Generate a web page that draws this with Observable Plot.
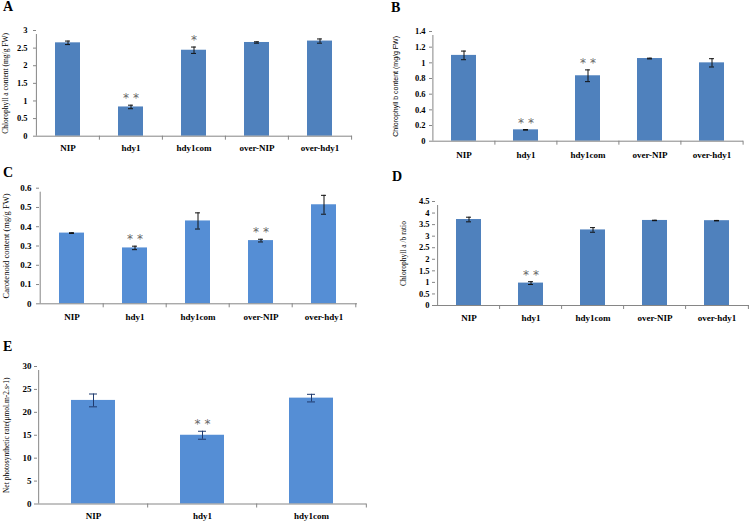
<!DOCTYPE html>
<html><head><meta charset="utf-8">
<script src="https://cdn.jsdelivr.net/npm/d3@7"></script>
<script src="https://cdn.jsdelivr.net/npm/@observablehq/plot@0.6"></script>
<style>
body{margin:0;background:#fff;}
#wrap{position:relative;width:750px;height:522px;overflow:hidden;background:#fff}
.panel{position:absolute}
.letter{position:absolute;font:bold 14px "Liberation Serif",serif;line-height:1;color:#000}
</style></head><body><div id="wrap"></div>
<script>
// ---- data ----
const lines5 = ["NIP", "hdy1", "hdy1com", "over-NIP", "over-hdy1"];
const lines3 = ["NIP", "hdy1", "hdy1com"];

const chlA = [2.65, 0.83, 2.44, 2.66, 2.70];
const chlAErr = [0.05, 0.05, 0.09, 0.02, 0.06];
const chlASig = ["", "**", "*", "", ""];
const chlATicks = [0, 0.5, 1, 1.5, 2, 2.5, 3];

const chlB = [1.095, 0.145, 0.835, 1.055, 1.0];
const chlBErr = [0.055, 0.004, 0.075, 0.005, 0.053];
const chlBSig = ["", "**", "**", "", ""];
const chlBTicks = [0, 0.2, 0.4, 0.6, 0.8, 1, 1.2, 1.4];

const carot = [0.367, 0.29, 0.43, 0.328, 0.514];
const carotErr = [0.002, 0.009, 0.042, 0.007, 0.049];
const carotSig = ["", "**", "", "**", ""];
const carotTicks = [0, 0.1, 0.2, 0.3, 0.4, 0.5, 0.6];

const ratioAB = [3.72, 0.97, 3.27, 3.68, 3.67];
const ratioABErr = [0.1, 0.06, 0.1, 0.01, 0.01];
const ratioABSig = ["", "**", "", "", ""];
const ratioTicks = [0, 0.5, 1, 1.5, 2, 2.5, 3, 3.5, 4, 4.5];

const pn = [22.6, 15.0, 23.1];
const pnErr = [1.4, 0.87, 0.83];
const pnSig = ["", "**", ""];
const pnTicks = [0, 5, 10, 15, 20, 25, 30];

const SERIF = "Liberation Serif, Times New Roman, serif";
const SANS = "Liberation Sans, Arial, sans-serif";
const AXIS = "#868686";

function panel(o) {
  const data = o.cats.map((c, i) => ({cat: c, v: o.values[i], e: o.errors[i], sig: o.sig[i]}));
  const yMax = o.ticks[o.ticks.length - 1];
  const step = (o.width - o.ml - o.mr) / o.cats.length;
  const chart = Plot.plot({
    width: o.width, height: o.height,
    marginTop: o.mt, marginRight: o.mr, marginBottom: o.mb, marginLeft: o.ml,
    style: {background: "transparent", overflow: "visible"},
    x: {type: "band", domain: o.cats, paddingInner: 0.6, paddingOuter: 0.3},
    y: {domain: [0, yMax]},
    marks: [
      Plot.barY(data, {x: "cat", y: "v", fill: o.color}),
      // y axis line + left category tick
      Plot.ruleX([o.cats[0]], {x: d => d, y1: 0, y2: yMax, dx: -step / 2, insetBottom: -4, stroke: AXIS}),
      // x axis line
      Plot.ruleY([0], {stroke: AXIS}),
      // category separator ticks
      Plot.ruleX(o.cats.slice(1), {x: d => d, y1: 0, y2: 0, dx: -step / 2, insetBottom: -4, stroke: AXIS}),
      Plot.ruleX([o.cats[o.cats.length - 1]], {x: d => d, y1: 0, y2: 0, dx: step / 2, insetBottom: -4, stroke: AXIS}),
      // error bars
      Plot.ruleX(data, {x: "cat", y1: d => d.v - d.e, y2: d => d.v + d.e, stroke: o.errColor, strokeWidth: 1}),
      Plot.tickY(data, {x: "cat", y: d => d.v + d.e, insetLeft: o.capInset, insetRight: o.capInset, stroke: o.errColor}),
      Plot.tickY(data, {x: "cat", y: d => d.v - d.e, insetLeft: o.capInset, insetRight: o.capInset, stroke: o.errColor}),
      // significance stars
      Plot.text(data.filter(d => d.sig), {x: "cat", y: d => d.v + d.e, text: d => d.sig.split("").join(" "),
        lineAnchor: "bottom", dy: -3, fontSize: 12, fill: "#666", fontFamily: "DejaVu Sans"}),
      // axes
      Plot.axisY(o.ticks, {tickSize: 3, tickPadding: o.yPad, tickFormat: d => String(d), stroke: AXIS,
        fontSize: o.tickFont, fontWeight: "bold", fontFamily: SERIF, fill: "#000", label: null}),
      Plot.axisY([], {label: o.title, labelAnchor: "center", labelArrow: false, labelOffset: o.labelOffset,
        fontSize: o.titleSize, fontFamily: o.titleFont, fontWeight: "normal", fill: "#000"}),
      Plot.axisX({tickSize: 0, tickPadding: o.xPad, fontSize: o.catFont, fontWeight: "bold",
        fontFamily: SERIF, fill: "#000", label: null})
    ]
  });
  const div = document.createElement("div");
  div.className = "panel";
  div.style.left = o.left + "px";
  div.style.top = o.top + "px";
  div.appendChild(chart);
  document.getElementById("wrap").appendChild(div);
  const lt = document.createElement("div");
  lt.className = "letter";
  lt.textContent = o.letter;
  lt.style.left = o.lx + "px";
  lt.style.top = o.ly + "px";
  document.getElementById("wrap").appendChild(lt);
}

const blueA = "#4F81BD";
const blueC = "#558ED5";

panel({letter: "A", lx: 3, ly: 0, cats: lines5, values: chlA, errors: chlAErr, sig: chlASig, ticks: chlATicks,
  title: "Chlorophyll a content (mg/g FW)", titleFont: SERIF, titleSize: 7.5, labelOffset: 34,
  color: blueA, errColor: "#111", left: 0, top: 0, width: 375, height: 160,
  mt: 30, mr: 23, mb: 24.3, ml: 36, capInset: 10, yPad: 6, xPad: 8, tickFont: 8.5, catFont: 9});

panel({letter: "B", lx: 391, ly: 1, cats: lines5, values: chlB, errors: chlBErr, sig: chlBSig, ticks: chlBTicks,
  title: "Chlorophyll b content (mg/g FW)", titleFont: SANS, titleSize: 7, labelOffset: 39,
  color: blueA, errColor: "#111", left: 375, top: 0, width: 375, height: 160,
  mt: 31, mr: 7, mb: 19.3, ml: 57, capInset: 10, yPad: 4, xPad: 10, tickFont: 8.5, catFont: 9});

panel({letter: "C", lx: 3, ly: 166, cats: lines5, values: carot, errors: carotErr, sig: carotSig, ticks: carotTicks,
  title: "Carotenoid content (mg/g FW)", titleFont: SERIF, titleSize: 8.5, labelOffset: 37,
  color: blueC, errColor: "#111", left: 0, top: 160, width: 375, height: 170,
  mt: 27.7, mr: 18, mb: 26.7, ml: 39, capInset: 10, yPad: 5, xPad: 10, tickFont: 9, catFont: 9});

panel({letter: "D", lx: 392, ly: 170, cats: lines5, values: ratioAB, errors: ratioABErr, sig: ratioABSig, ticks: ratioTicks,
  title: "Chlorophyll a /b ratio", titleFont: SERIF, titleSize: 7.5, labelOffset: 35,
  color: blueA, errColor: "#111", left: 375, top: 160, width: 375, height: 170,
  mt: 41, mr: 1, mb: 25, ml: 60, capInset: 10, yPad: 3, xPad: 9, tickFont: 8.5, catFont: 9});

panel({letter: "E", lx: 3, ly: 340, cats: lines3, values: pn, errors: pnErr, sig: pnSig, ticks: pnTicks,
  title: "Net photosynthetic rate(μmol.m-2.s-1)", titleFont: SERIF, titleSize: 7.5, labelOffset: 34,
  color: blueC, errColor: "#1F3A6E", left: 0, top: 330, width: 375, height: 192,
  mt: 36, mr: 9, mb: 18.5, ml: 37, capInset: 18, yPad: 3, xPad: 9, tickFont: 9, catFont: 9});
</script></body></html>
